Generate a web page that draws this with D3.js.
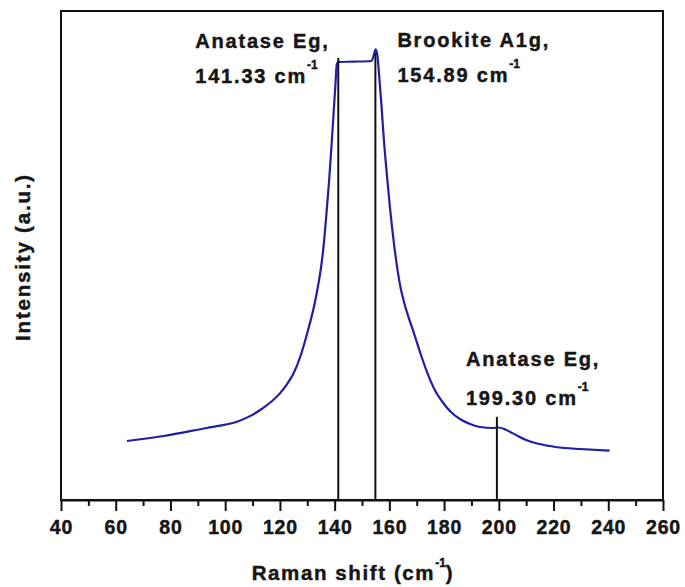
<!DOCTYPE html>
<html>
<head>
<meta charset="utf-8">
<script src="https://cdn.jsdelivr.net/npm/d3@7"></script>
<style>
  html, body { margin: 0; padding: 0; background: #fff; }
  svg { display: block; }
  text { font-family: Arial, "Liberation Sans", sans-serif; font-weight: bold; fill: #161616; stroke: #161616; stroke-width: 0.45px; }
</style>
</head>
<body>
<svg id="chart" width="685" height="587"></svg>
<script>
// ---- Data ----
const ramanShift = [64.1, 77.5, 93.3, 100.0, 104.3, 108.5, 112.8, 120.0, 122.5, 125.0, 127.5, 130.0, 132.5, 134.0, 135.0, 136.0, 137.0, 138.0, 139.0, 140.3, 140.8, 141.3, 147.0, 153.5, 154.3, 155.0, 155.6, 156.2, 157.1, 158.0, 159.1, 160.2, 161.6, 163.0, 164.1, 165.3, 167.0, 168.7, 171.0, 173.6, 176.5, 179.7, 182.5, 185.8, 189.5, 193.1, 197.9, 199.8, 202.0, 204.0, 207.0, 210.0, 214.0, 218.6, 224.0, 229.6, 240.5];
const intensity  = [12.07, 13.09, 14.72, 15.4, 16.01, 17.0, 18.40, 21.8, 23.6, 25.9, 29.4, 34.15, 39.67, 43.97, 47.44, 52.15, 58.49, 65.44, 73.62, 85.07, 89.16, 89.57, 89.65, 89.78, 91.0, 92.17, 91.0, 87.3, 80.8, 73.6, 66.5, 59.9, 52.8, 47.0, 43.4, 40.6, 37.4, 34.6, 30.6, 26.4, 22.6, 19.84, 18.0, 16.56, 15.54, 14.93, 14.72, 14.83, 14.52, 13.97, 13.09, 12.27, 11.55, 11.04, 10.63, 10.43, 10.08];

const xTicks = [40, 60, 80, 100, 120, 140, 160, 180, 200, 220, 240, 260];
const xMinorTicks = [50, 70, 90, 110, 130, 150, 170, 190, 210, 230, 250];

const peakPositions = [141.33, 154.89, 199.30];
const peakTops      = [90.4, 91.4, 17.0];
const peakNames     = ["Anatase Eg,", "Brookite A1g,", "Anatase Eg,"];
const peakValues    = ["141.33 cm", "154.89 cm", "199.30 cm"];

const xTitle = "Raman shift (cm";
const yTitle = "Intensity (a.u.)";

// ---- Layout ----
const svg = d3.select("#chart");
const L = 61, R = 663, T = 11, B = 500;

const x = d3.scaleLinear().domain([40, 260]).range([L, R]);
const y = d3.scaleLinear().domain([0, 100]).range([B, T]);

// Frame
svg.append("rect")
  .attr("x", L).attr("y", T).attr("width", R - L).attr("height", B - T)
  .attr("fill", "none").attr("stroke", "#111").attr("stroke-width", 2);

// X axis
const xAxis = d3.axisBottom(x).tickValues(xTicks).tickSize(11).tickPadding(9).tickSizeOuter(0);
const gx = svg.append("g").attr("transform", `translate(0,${B})`).call(xAxis);
gx.select(".domain").attr("stroke", "#111").attr("stroke-width", 2);
gx.selectAll(".tick line").attr("stroke", "#111").attr("stroke-width", 2);
gx.selectAll(".tick text")
  .attr("font-size", 19.5).attr("font-family", "Arial, 'Liberation Sans', sans-serif")
  .attr("font-weight", "bold").attr("fill", "#161616").attr("letter-spacing", 0.8)
  .attr("dy", "0.71em");

const xMinor = d3.axisBottom(x).tickValues(xMinorTicks).tickSize(6).tickFormat("").tickSizeOuter(0);
const gxm = svg.append("g").attr("transform", `translate(0,${B})`).call(xMinor);
gxm.select(".domain").remove();
gxm.selectAll(".tick line").attr("stroke", "#111").attr("stroke-width", 2);

// Curve
const pts = ramanShift.map((d, i) => [d, intensity[i]]);
const line = d3.line().x(d => x(d[0])).y(d => y(d[1])).curve(d3.curveMonotoneX);
svg.append("path").datum(pts)
  .attr("d", line)
  .attr("fill", "none").attr("stroke", "#1e1ea6").attr("stroke-width", 2.2)
  .attr("stroke-linejoin", "round");

// Peak marker lines
peakPositions.forEach((p, i) => {
  svg.append("line")
    .attr("x1", x(p)).attr("x2", x(p))
    .attr("y1", y(peakTops[i])).attr("y2", y(0))
    .attr("stroke", "#111").attr("stroke-width", 2);
});

// Peak annotations
const annLayout = [
  { dx: -143, y1: 48, y2: 83 },
  { dx: 22, y1: 47, y2: 82 },
  { dx: -31, y1: 366, y2: 405 }
];
peakPositions.forEach((p, i) => {
  const lx = x(p) + annLayout[i].dx;
  svg.append("text").attr("x", lx).attr("y", annLayout[i].y1)
    .attr("font-size", 20).attr("letter-spacing", 1.8).text(peakNames[i]);
  const t = svg.append("text").attr("x", lx).attr("y", annLayout[i].y2)
    .attr("font-size", 20).attr("letter-spacing", 1.8);
  t.append("tspan").text(peakValues[i]);
  t.append("tspan").attr("font-size", 12).attr("dy", -14).attr("letter-spacing", 0).text("-1");
});

// Axis titles
const xt = svg.append("text").attr("x", 353).attr("y", 580)
  .attr("text-anchor", "middle").attr("font-size", 20.5).attr("letter-spacing", 1.6);
xt.append("tspan").text(xTitle);
xt.append("tspan").attr("font-size", 12).attr("dy", -13).attr("letter-spacing", 0).text("-1");
xt.append("tspan").attr("dy", 13).text(")");

svg.append("text")
  .attr("transform", `translate(30,257) rotate(-90)`)
  .attr("text-anchor", "middle").attr("font-size", 20.5).attr("letter-spacing", 1.8)
  .text(yTitle);
</script>
</body>
</html>
